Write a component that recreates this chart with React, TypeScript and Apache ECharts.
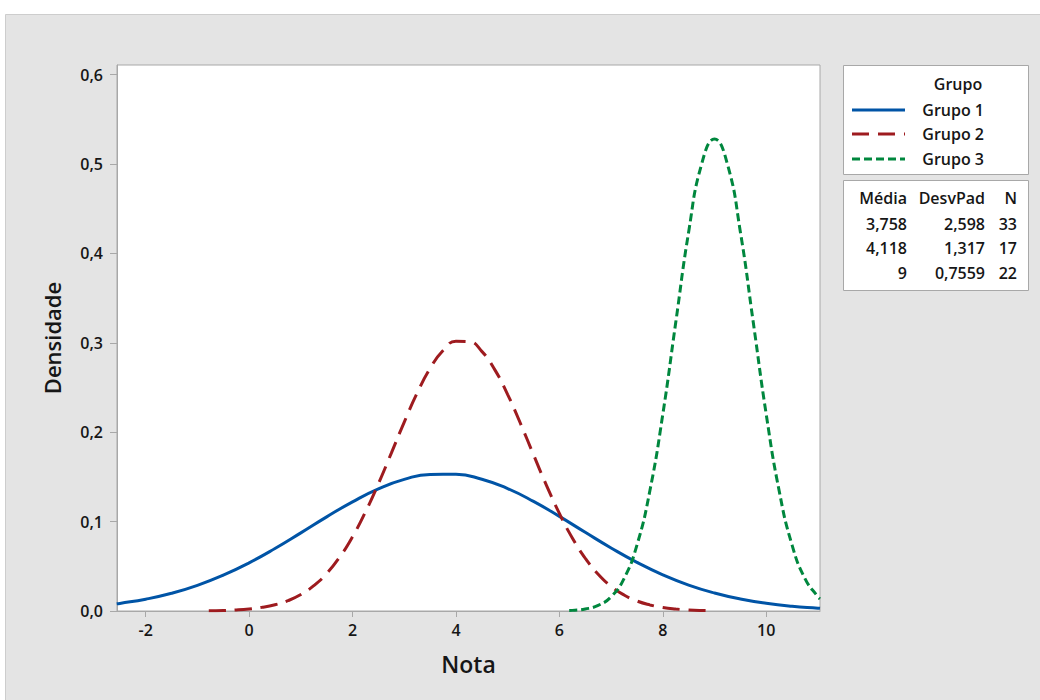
import React, { useEffect, useRef } from "react";
import * as echarts from "echarts";

// Grupo 1 (solid blue)
const g1X = [-2.56, -2.5, -2, -1.5, -1, -0.5, 0, 0.5, 1, 1.5, 2, 2.5, 3, 3.5, 4, 4.5, 5, 5.5, 6, 6.5, 7, 7.5, 8, 8.5, 9, 9.5, 10, 10.5, 11, 11.04];
const g1Y = [0.0080, 0.0085, 0.0132, 0.0198, 0.0287, 0.0401, 0.0539, 0.0699, 0.0874, 0.1053, 0.1221, 0.1366, 0.1472, 0.1528, 0.1529, 0.1474, 0.1370, 0.1226, 0.1058, 0.0880, 0.0705, 0.0544, 0.0405, 0.0290, 0.0201, 0.0134, 0.0086, 0.0053, 0.0032, 0.0030];

// Grupo 2 (long-dash red)
const g2X = [-0.78, -0.5, -0.25, 0, 0.25, 0.5, 0.75, 1, 1.25, 1.5, 1.75, 2, 2.25, 2.5, 2.75, 3, 3.25, 3.5, 3.75, 4, 4.25, 4.5, 4.75, 5, 5.25, 5.5, 5.75, 6, 6.25, 6.5, 6.75, 7, 7.25, 7.5, 7.75, 8, 8.25, 8.5, 8.75, 9];
const g2Y = [0.0003, 0.0006, 0.0012, 0.0023, 0.0041, 0.0070, 0.0115, 0.0184, 0.0283, 0.0420, 0.0602, 0.0831, 0.1108, 0.1424, 0.1766, 0.2113, 0.2438, 0.2713, 0.2913, 0.3017, 0.3014, 0.2904, 0.2700, 0.2421, 0.2094, 0.1747, 0.1406, 0.1091, 0.0817, 0.0590, 0.0411, 0.0276, 0.0179, 0.0112, 0.0068, 0.0039, 0.0022, 0.0012, 0.0006, 0.0003];

// Grupo 3 (short-dash green)
const g3X = [6.19, 6.25, 6.5, 6.75, 7, 7.25, 7.5, 7.75, 8, 8.25, 8.5, 8.75, 9, 9.25, 9.5, 9.75, 10, 10.25, 10.5, 10.75, 11, 11.04];
const g3Y = [0.0005, 0.0007, 0.0022, 0.0063, 0.0159, 0.0362, 0.0737, 0.1345, 0.2200, 0.3226, 0.4240, 0.4997, 0.5278, 0.4997, 0.4240, 0.3226, 0.2200, 0.1345, 0.0737, 0.0362, 0.0159, 0.0136];

const yTicks = [0, 0.1, 0.2, 0.3, 0.4, 0.5, 0.6];
const xTicks = [-2, 0, 2, 4, 6, 8, 10];

const groupNames = ["Grupo 1", "Grupo 2", "Grupo 3"];
const statHeader = ["Média", "DesvPad", "N"];
const statMean = ["3,758", "4,118", "9"];
const statSd = ["2,598", "1,317", "0,7559"];
const statN = ["33", "17", "22"];

const COLORS = ["#0054a6", "#9e1b1f", "#00873e"];
const DASHES: (number[] | "solid")[] = ["solid", [17, 9], [8, 4]];
const FONT = "'Open Sans', 'Noto Sans', sans-serif";
const INK = "#161616";

function pairs(xs: number[], ys: number[]) {
  return xs.map((x, i) => [x, ys[i]]);
}

function txt(text: string, x: number, y: number, align: string, weight = 600, size = 16) {
  return {
    type: "text",
    x,
    y,
    z: 10,
    style: {
      text,
      fill: INK,
      font: `${weight} ${size}px ${FONT}`,
      align,
      verticalAlign: "middle",
      textAlign: align,
      textVerticalAlign: "middle",
    },
  };
}

export default function App() {
  const ref = useRef<HTMLDivElement>(null);
  useEffect(() => {
    if (!ref.current) return;
    const chart = echarts.init(ref.current, undefined, { renderer: "svg" });

    const legendY = [110, 134, 159];
    const rowY = [224, 248, 273];
    const graphic: any[] = [
      {
        type: "rect",
        z: -100,
        shape: { x: 5.5, y: 14.5, width: 1040, height: 690 },
        style: { fill: "#e4e4e4", stroke: "#cdcdcd", lineWidth: 1 },
      },
      {
        type: "rect",
        z: 5,
        shape: { x: 843.5, y: 65.5, width: 185, height: 109 },
        style: { fill: "#ffffff", stroke: "#a8a8a8", lineWidth: 1 },
      },
      {
        type: "rect",
        z: 5,
        shape: { x: 843.5, y: 180.5, width: 185, height: 110 },
        style: { fill: "#ffffff", stroke: "#a8a8a8", lineWidth: 1 },
      },
      txt("Grupo", 958, 84, "center"),
    ];
    groupNames.forEach((name, i) => {
      graphic.push({
        type: "line",
        z: 10,
        shape: { x1: 852, y1: legendY[i], x2: 905, y2: legendY[i] },
        style: {
          stroke: COLORS[i],
          lineWidth: 3,
          lineDash: DASHES[i] === "solid" ? null : DASHES[i],
        },
      });
      graphic.push(txt(name, 984, legendY[i], "right"));
    });
    graphic.push(txt(statHeader[0], 907, 198, "right"));
    graphic.push(txt(statHeader[1], 985, 198, "right"));
    graphic.push(txt(statHeader[2], 1017, 198, "right"));
    rowY.forEach((y, i) => {
      graphic.push(txt(statMean[i], 907, y, "right"));
      graphic.push(txt(statSd[i], 985, y, "right"));
      graphic.push(txt(statN[i], 1017, y, "right"));
    });

    const series = [pairs(g1X, g1Y), pairs(g2X, g2Y), pairs(g3X, g3Y)].map((data, i) => ({
      name: groupNames[i],
      type: "line",
      data,
      showSymbol: false,
      smooth: true,
      clip: true,
      lineStyle: { color: COLORS[i], width: 3, type: DASHES[i] },
      itemStyle: { color: COLORS[i] },
    }));

    chart.setOption({
      animation: false,
      backgroundColor: "#ffffff",
      textStyle: { fontFamily: FONT },
      grid: {
        left: 117,
        top: 65,
        width: 703,
        height: 546,
        show: true,
        backgroundColor: "#ffffff",
        borderColor: "#a8a8a8",
        borderWidth: 1,
      },
      xAxis: {
        type: "value",
        min: -2.555,
        max: 11.04,
        name: "Nota",
        nameLocation: "middle",
        nameGap: 41,
        nameTextStyle: { fontSize: 23, fontWeight: 600, color: INK, fontFamily: FONT },
        splitLine: { show: false },
        axisLine: { show: true, onZero: false, lineStyle: { color: "#a8a8a8", width: 1 } },
        axisTick: { show: true, length: 6, lineStyle: { color: "#a8a8a8" }, customValues: xTicks },
        axisLabel: {
          customValues: xTicks,
          margin: 11,
          fontSize: 16,
          fontWeight: 600,
          color: INK,
          fontFamily: FONT,
          formatter: (v: number) => String(v),
        },
      },
      yAxis: {
        type: "value",
        min: 0,
        max: 0.6107,
        name: "Densidade",
        nameLocation: "middle",
        nameGap: 54,
        nameRotate: 90,
        nameTextStyle: { fontSize: 22, fontWeight: 600, color: INK, fontFamily: FONT },
        splitLine: { show: false },
        axisLine: { show: true, onZero: false, lineStyle: { color: "#a8a8a8", width: 1 } },
        axisTick: { show: true, length: 7, lineStyle: { color: "#a8a8a8" }, customValues: yTicks },
        axisLabel: {
          customValues: yTicks,
          margin: 14,
          fontSize: 16,
          fontWeight: 600,
          color: INK,
          fontFamily: FONT,
          formatter: (v: number) => v.toFixed(1).replace(".", ","),
        },
      },
      graphic,
      series,
    });
    return () => chart.dispose();
  }, []);

  return (
    <div
      ref={ref}
      style={{ position: "absolute", left: 0, top: 0, width: 1040, height: 700 }}
    />
  );
}
